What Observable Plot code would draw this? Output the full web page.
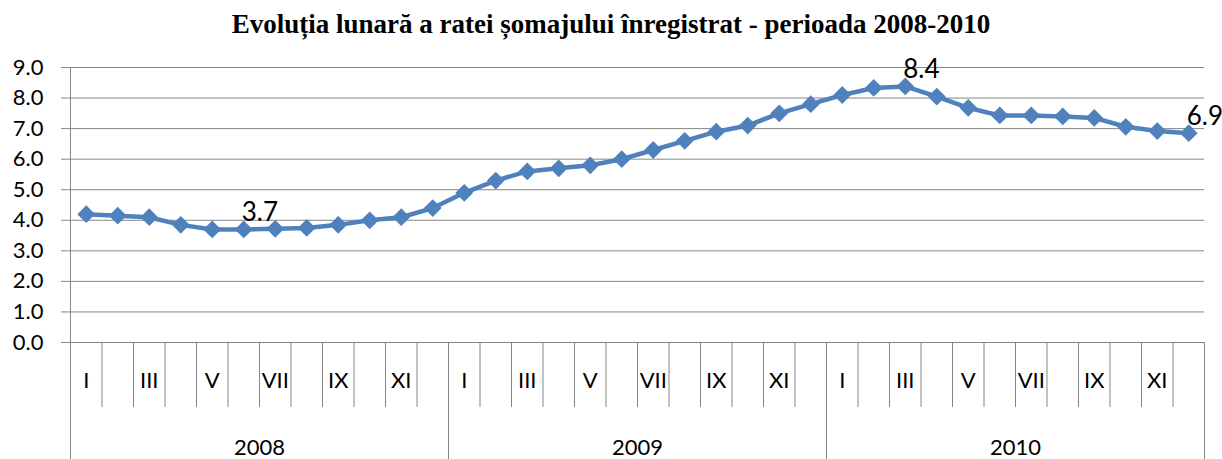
<!DOCTYPE html>
<html><head><meta charset="utf-8">
<script src="https://cdn.jsdelivr.net/npm/d3@7"></script>
<script src="https://cdn.jsdelivr.net/npm/@observablehq/plot@0.6"></script>
<style>
html,body{margin:0;padding:0;background:#fff;overflow:hidden;width:1222px;height:459px}
#title{box-sizing:border-box;height:50px;padding-top:12px;line-height:24px;text-align:center;font-family:"Liberation Serif","Times New Roman",serif;font-weight:bold;font-size:27px;color:#000;white-space:nowrap}
#chart svg{display:block}
</style></head><body>
<div id="title">Evoluția lunară a ratei șomajului înregistrat - perioada 2008-2010</div>
<div id="chart"></div>
<script>
const years = ["2008", "2009", "2010"];
const months = ["I", "II", "III", "IV", "V", "VI", "VII", "VIII", "IX", "X", "XI", "XII"];
const rate2008 = [4.2, 4.15, 4.1, 3.85, 3.7, 3.7, 3.72, 3.75, 3.85, 4.0, 4.1, 4.4];
const rate2009 = [4.9, 5.3, 5.6, 5.7, 5.8, 6.0, 6.3, 6.6, 6.9, 7.1, 7.5, 7.8];
const rate2010 = [8.1, 8.33, 8.38, 8.05, 7.68, 7.43, 7.43, 7.4, 7.35, 7.06, 6.92, 6.85];
const labelled = [
  {year: "2008", month: "VI", text: "3.7"},
  {year: "2010", month: "III", text: "8.4"},
  {year: "2010", month: "XII", text: "6.9"}
];
const yTicks = [0, 1, 2, 3, 4, 5, 6, 7, 8, 9];

const series = [rate2008, rate2009, rate2010];
const rows = years.flatMap((y, yi) => series[yi].map((v, mi) => ({i: yi * 12 + mi, year: y, month: months[mi], v})));
const labelRows = labelled.map(l => {
  const r = rows.find(d => d.year === l.year && d.month === l.month);
  return {...r, text: l.text};
});
const xc = d => d.i + 0.5;
const grey = "#868686";
const blue = "#4F81BD";

const chart = Plot.plot({
  width: 1222,
  height: 409,
  marginTop: 17,
  marginBottom: 117,
  marginLeft: 70,
  marginRight: 18,
  x: {type: "linear", domain: [0, 36], axis: null, label: null},
  y: {domain: [0, 9], axis: null, label: null},
  style: {fontFamily: "Lato, 'Open Sans', sans-serif", color: "#000", background: "#fff", overflow: "visible"},
  marks: [
    Plot.ruleY(yTicks, {stroke: grey, strokeWidth: 1, insetLeft: -9}),
    Plot.axisY({ticks: yTicks, tickSize: 0, tickPadding: 27, tickFormat: d3.format(".1f"), fontSize: 22, fill: "#000", label: null}),
    Plot.ruleX([0], {stroke: grey}),
    Plot.axisX({ticks: d3.range(0, 37), tickSize: 65, tickFormat: () => "", stroke: grey, label: null}),
    Plot.axisX({ticks: [0, 12, 24, 36], tickSize: 140, tickFormat: () => "", stroke: grey, label: null}),
    Plot.text(rows.filter(d => d.i % 2 === 0), {x: xc, text: "month", frameAnchor: "bottom", dy: 45, fontSize: 22, fill: "#000"}),
    Plot.text(years, {x: (d, i) => i * 12 + 6, text: d => d, frameAnchor: "bottom", dy: 112, fontSize: 22, fill: "#000"}),
    Plot.lineY(rows, {x: xc, y: "v", stroke: blue, strokeWidth: 4.5}),
    Plot.dot(rows, {x: xc, y: "v", symbol: "diamond2", r: 8, fill: blue, stroke: "none"}),
    Plot.text(labelRows, {x: xc, y: "v", text: "text", textAnchor: "start", dx: -2, dy: -17, fontSize: 26, fill: "#000"})
  ]
});
document.getElementById("chart").append(chart);
</script>
</body></html>
